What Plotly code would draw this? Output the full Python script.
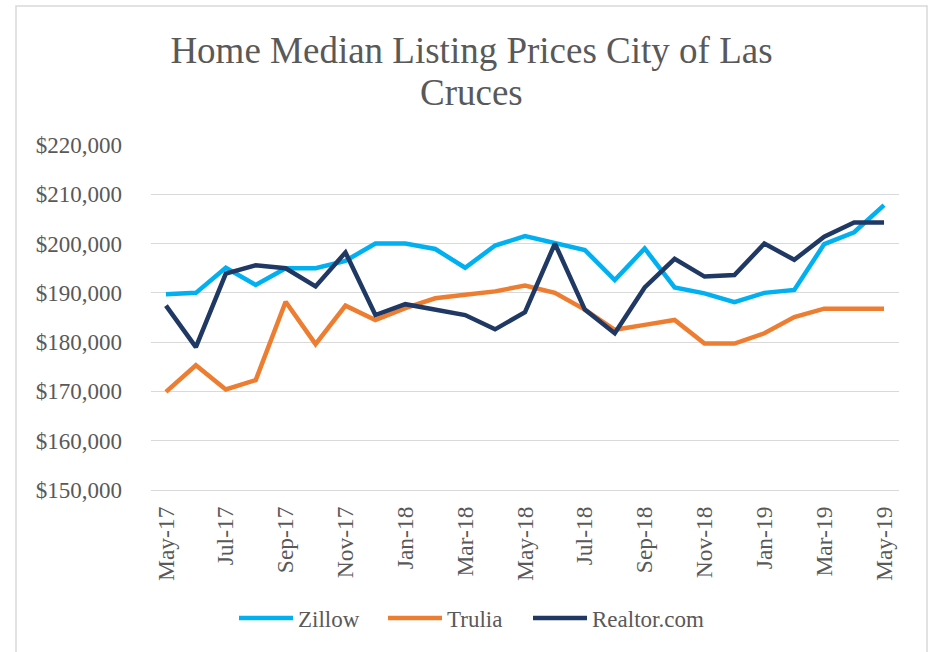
import plotly.graph_objects as go

months = ["May-17", "Jun-17", "Jul-17", "Aug-17", "Sep-17", "Oct-17", "Nov-17", "Dec-17",
          "Jan-18", "Feb-18", "Mar-18", "Apr-18", "May-18", "Jun-18", "Jul-18", "Aug-18",
          "Sep-18", "Oct-18", "Nov-18", "Dec-18", "Jan-19", "Feb-19", "Mar-19", "Apr-19", "May-19"]

zillow = [189700, 190000, 195100, 191600, 195000, 195000, 196500, 200000,
          200000, 198900, 195100, 199600, 201500, 200200, 198700, 192600,
          199000, 191100, 189900, 188100, 190000, 190600, 199900, 202300, 207800]

trulia = [169900, 175300, 170400, 172300, 188200, 179600, 187400, 184500,
          186900, 188900, 189600, 190300, 191500, 190000, 186600, 182500,
          183500, 184500, 179700, 179700, 181800, 185100, 186800, 186800, 186800]

realtor = [187400, 179000, 193900, 195600, 195000, 191300, 198200, 185500,
           187700, 186700, 185500, 182600, 186100, 200000, 186600, 181800,
           191100, 196900, 193300, 193600, 200000, 196700, 201400, 204300, 204300]

series_names = ["Zillow", "Trulia", "Realtor.com"]
series_colors = ["#00B0F0", "#ED7D31", "#1F3864"]

tick_labels = months[::2]

title_line1 = "Home Median Listing Prices City of Las"
title_line2 = "Cruces"

FONT = "Liberation Serif, Times New Roman, serif"
TXT = "#595959"

W, H = 934, 652
L, R, T, B = 151, 35, 145, 162
pw = W - L - R
ph = H - T - B


def px_x(px):
    return (px - L) / pw


def px_y(py):
    return (H - B - py) / ph


legend_ids = ["legend", "legend2", "legend3"]
legend_left_px = [234, 383, 528]

fig = go.Figure()
for name, vals, col, lg in zip(series_names, [zillow, trulia, realtor], series_colors, legend_ids):
    fig.add_trace(go.Scatter(x=months, y=vals, name=name, mode="lines", legend=lg,
                             line=dict(color=col, width=4.5, shape="linear")))

legend_layouts = {}
for lg, lx in zip(legend_ids, legend_left_px):
    legend_layouts[lg] = dict(orientation="h", xref="container", yref="container",
                              x=lx / W, xanchor="left", y=(H - 618) / H, yanchor="middle",
                              font=dict(family=FONT, size=23, color=TXT),
                              itemwidth=54, bgcolor="rgba(0,0,0,0)")

fig.update_layout(
    width=W, height=H,
    margin=dict(l=L, r=R, t=T, b=B),
    paper_bgcolor="white", plot_bgcolor="white",
    font=dict(family=FONT, color=TXT, size=23),
    title=dict(text=title_line1,
               font=dict(family=FONT, size=37, color=TXT),
               x=471.5 / W, xanchor="center", xref="container",
               y=1 - 50 / H, yanchor="middle", yref="container"),
    annotations=[dict(text=title_line2, showarrow=False,
                      xref="paper", yref="paper",
                      x=px_x(471.5), xanchor="center",
                      y=px_y(92), yanchor="middle",
                      font=dict(family=FONT, size=37, color=TXT))],
    xaxis=dict(type="category", categoryorder="array", categoryarray=months,
               range=[-0.5, len(months) - 0.5],
               tickmode="array", tickvals=tick_labels, ticktext=tick_labels,
               tickangle=-90, showgrid=False, showline=True, linecolor="#D9D9D9",
               linewidth=1.3, ticks="", ticklabelstandoff=6,
               tickfont=dict(family=FONT, size=23.5, color=TXT)),
    yaxis=dict(range=[150000, 220000], dtick=10000, tick0=150000,
               tickformat="$,.0f", showgrid=True, gridcolor="#D9D9D9", gridwidth=1.3,
               zeroline=False, showline=False, ticks="", ticklabelstandoff=28,
               tickfont=dict(family=FONT, size=23, color=TXT)),
    showlegend=True,
    shapes=[dict(type="rect", xref="paper", yref="paper",
                 x0=px_x(16), x1=px_x(927), y0=px_y(680), y1=px_y(6),
                 line=dict(color="#D9D9D9", width=1.5), fillcolor="rgba(0,0,0,0)",
                 layer="below")],
    **legend_layouts,
)

fig.write_html("out.html",
               config={"displayModeBar": False},
               post_script="document.body.style.margin='0';document.body.style.padding='0';document.body.style.overflow='hidden';")
